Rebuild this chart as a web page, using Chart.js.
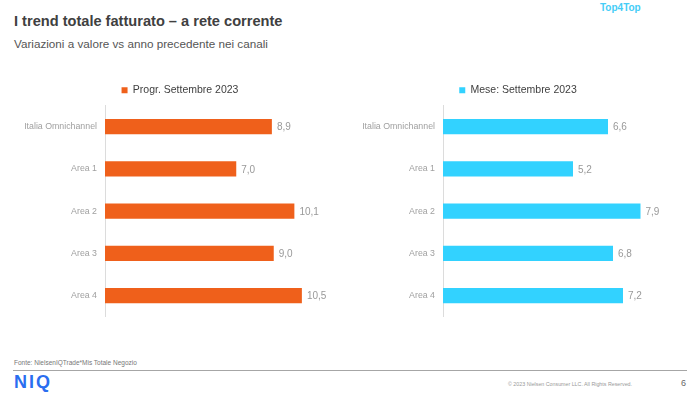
<!DOCTYPE html>
<html>
<head>
<meta charset="utf-8">
<script src="https://cdn.jsdelivr.net/npm/chart.js@4"></script>
<style>
  body { margin: 0; width: 700px; height: 393px; background: #fff; position: relative; overflow: hidden;
         font-family: 'Liberation Sans', Arial, sans-serif; }
  .abs { position: absolute; white-space: nowrap; }
  #title { left: 14px; top: 13px; font-size: 14.6px; font-weight: bold; color: #404040; }
  #subtitle { left: 14px; top: 37px; font-size: 11.7px; color: #555; }
  #brand { left: 600px; top: 2px; font-size: 10px; font-weight: bold; color: #45cdf7; }
  #source { left: 14px; top: 359px; font-size: 6.5px; color: #777; }
  #rule { left: 13px; top: 370px; width: 674px; height: 1px; background: #a6a6a6; }
  #logo { left: 14px; top: 372px; font-size: 18px; font-weight: 900; color: #2a6ef0; letter-spacing: 2px; }
  #copy { left: 508px; top: 381px; font-size: 5.3px; color: #999; }
  #page { left: 681px; top: 378px; font-size: 9px; color: #666; }
  .wrap { position: absolute; top: 75px; width: 350px; height: 255px; }
</style>
</head>
<body>
<div class="abs" id="title">I trend totale fatturato – a rete corrente</div>
<div class="abs" id="subtitle">Variazioni a valore vs anno precedente nei canali</div>
<div class="abs" id="brand">Top4Top</div>
<div class="abs" id="source">Fonte: NielsenIQTrade*Mis Totale Negozio</div>
<div class="abs" id="rule"></div>
<div class="abs" id="logo">NIQ</div>
<div class="abs" id="copy">© 2023 Nielsen Consumer LLC. All Rights Reserved.</div>
<div class="abs" id="page">6</div>

<div class="wrap" style="left:0"><canvas id="chartProgr"></canvas></div>
<div class="wrap" style="left:350px"><canvas id="chartMese"></canvas></div>

<script>
const categories = ['Italia Omnichannel', 'Area 1', 'Area 2', 'Area 3', 'Area 4']
const progrValues = [8.9, 7.0, 10.1, 9.0, 10.5]
const meseValues = [6.6, 5.2, 7.9, 6.8, 7.2]

// value labels at the end of each bar, decimal comma
const valueLabels = {
    id: 'valueLabels',
    afterDatasetsDraw(chart) {
        const ctx = chart.ctx
        ctx.save()
        ctx.font = "10px 'Liberation Sans', Arial, sans-serif"
        ctx.fillStyle = '#999'
        ctx.textBaseline = 'middle'
        chart.getDatasetMeta(0).data.forEach((bar, i) => {
            const v = chart.data.datasets[0].data[i]
            ctx.fillText(v.toFixed(1).replace('.', ','), bar.x + 5, bar.y + 1)
        })
        ctx.restore()
    }
}

// nudge the legend sideways so it sits over the bars like the original
const legendShift = {
    id: 'legendShift',
    afterLayout(chart, args, opts) {
        chart.legend.left += opts.dx
        chart.legend.right += opts.dx
    }
}

function renderChart(canvasId, label, values, color, xMax, axisWidth, padRight, dx) {
    const chartConfig = {
        type: 'bar',
        data: {
            labels: categories,
            datasets: [{
                label: label,
                data: values,
                backgroundColor: color,
                borderWidth: 0,
                barPercentage: 0.36,
                categoryPercentage: 1
            }]
        },
        options: {
            indexAxis: 'y',
            responsive: false,
            maintainAspectRatio: false,
            animation: false,
            layout: { padding: { right: padRight, top: 0, bottom: 0 } },
            plugins: {
                tooltip: { enabled: false },
                legendShift: { dx: dx },
                legend: {
                    position: 'top',
                    labels: {
                        boxWidth: 6,
                        boxHeight: 6,
                        padding: 10,
                        color: '#404040',
                        font: { size: 10.5, family: "'Liberation Sans', Arial, sans-serif" }
                    }
                }
            },
            scales: {
                x: { display: false, min: 0, max: xMax },
                y: {
                    afterFit: scale => { scale.width = axisWidth },
                    grid: { display: false, drawTicks: false },
                    border: { display: true, color: '#dcdcdc', dash: [2, 2] },
                    ticks: {
                        padding: 8,
                        color: '#a0a0a0',
                        font: { size: 8.8, family: "'Liberation Sans', Arial, sans-serif" }
                    }
                }
            }
        },
        plugins: [valueLabels, legendShift]
    }

    const canvas = document.getElementById(canvasId)
    canvas.width = 350
    canvas.height = 255
    new Chart(canvas, chartConfig)
}

renderChart('chartProgr', 'Progr. Settembre 2023', progrValues, '#ef601b', 12, 105, 20, 15)
renderChart('chartMese', 'Mese: Settembre 2023', meseValues, '#32d2ff', 9, 93, 32, 9)
</script>
</body>
</html>
